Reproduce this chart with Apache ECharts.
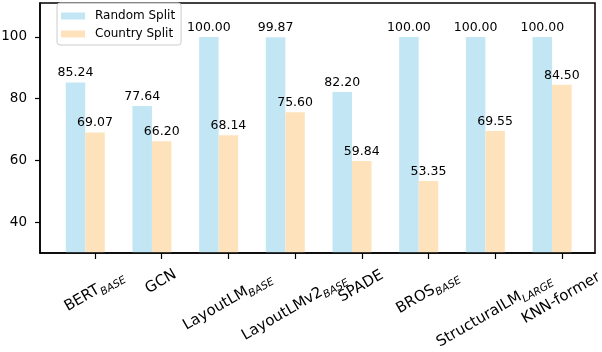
<!DOCTYPE html>
<html>
<head>
<meta charset="utf-8">
<script src="https://cdn.jsdelivr.net/npm/echarts@6/dist/echarts.min.js"></script>
<style>
html, body { margin: 0; padding: 0; background: #fff; }
#chart { width: 602px; height: 352px; }
</style>
</head>
<body>
<div id="chart"></div>
<script>
const modelNames = ['BERT', 'GCN', 'LayoutLM', 'LayoutLMv2', 'SPADE', 'BROS', 'StructuralLM', 'KNN-former']
const modelSubs = ['BASE', '', 'BASE', 'BASE', '', 'BASE', 'LARGE', '']
const randomSplit = [85.24, 77.64, 100.00, 99.87, 82.20, 100.00, 100.00, 100.00]
const countrySplit = [69.07, 66.20, 68.14, 75.60, 59.84, 53.35, 69.55, 84.50]
const yTicks = [40, 60, 80, 100]

const FONT = 'DejaVu Sans'
const BAR = 0.2925 // bar width in x units, country bar sits one bar to the right
const X_MIN = -0.5325
const X_MAX = 7.79
const BLUE = '#c3e6f5'
const ORANGE = '#fee2bb'

// blank entries at both ends soak up echarts' min/max label hiding
const xTicks = [X_MIN, ...modelNames.map((_, i) => i + BAR), X_MAX]

// measure label so rotated text can be centred under its tick (like ha='center')
const ctx = document.createElement('canvas').getContext('2d')
function labelWidth(i) {
  ctx.font = '15px "' + FONT + '"'
  let w = ctx.measureText(modelNames[i]).width
  if (modelSubs[i]) {
    ctx.font = 'italic 10.5px "' + FONT + '"'
    w += ctx.measureText(modelSubs[i]).width
  }
  return w
}

const rich = {
  m: { fontFamily: FONT, fontSize: 15, color: '#000', verticalAlign: 'bottom', padding: [0, 0, 3, 0] },
  s: { fontFamily: FONT, fontSize: 10.5, fontStyle: 'italic', color: '#000', verticalAlign: 'bottom' },
}
modelNames.forEach((_, i) => {
  const e = 0.3 * labelWidth(i)
  rich['p' + i] = { width: e, lineHeight: 18 + 1.732 * e, fontSize: 1 }
})

const valueLabel = {
  show: true,
  position: 'top',
  distance: 3,
  fontFamily: FONT,
  fontSize: 12.5,
  color: '#000',
  formatter: (p) => p.value[1].toFixed(2),
}

const chart = echarts.init(document.getElementById('chart'))
chart.setOption({
  animation: false,
  textStyle: { fontFamily: FONT },
  grid: {
    left: 40, right: 7, top: 3, bottom: 99,
    show: true, borderColor: '#000', borderWidth: 1.5,
    containLabel: false, outerBoundsMode: 'none',
  },
  legend: {
    orient: 'vertical',
    left: 57, top: 3,
    itemWidth: 24, itemHeight: 7, itemGap: 6,
    padding: [7, 6, 5, 4],
    borderColor: '#ccc', borderWidth: 1, borderRadius: 3,
    backgroundColor: 'rgba(255,255,255,0.8)',
    icon: 'rect',
    textStyle: { fontFamily: FONT, fontSize: 12, color: '#000', padding: [0, 0, 0, 5] },
    data: ['Random Split', 'Country Split'],
  },
  xAxis: [
    {
      type: 'value', min: X_MIN, max: X_MAX, z: 5,
      axisLine: { show: true, onZero: false, lineStyle: { color: '#000', width: 1.5 } },
      axisTick: { show: true, length: 6, customValues: xTicks, lineStyle: { color: '#000', width: 1.2 } },
      axisLabel: {
        customValues: xTicks,
        showMinLabel: false, showMaxLabel: false, hideOverlap: false,
        rotate: 30, align: 'center', verticalAlign: 'middle', margin: 20,
        formatter: (v) => {
          const i = Math.round(v - BAR)
          if (i < 0 || i >= modelNames.length || Math.abs(v - BAR - i) > 0.01) return ''
          return '{m|' + modelNames[i] + '}' + (modelSubs[i] ? '{s|' + modelSubs[i] + '}' : '') + '{p' + i + '|\u00a0}'
        },
        rich,
      },
      splitLine: { show: false },
    },
    { type: 'value', min: X_MIN, max: X_MAX, show: false },
  ],
  yAxis: {
    type: 'value', min: 30, max: 111, z: 5,
    axisLine: { show: true, onZero: false, lineStyle: { color: '#000', width: 1.5 } },
    axisTick: { show: true, length: 5, customValues: yTicks, lineStyle: { color: '#000', width: 1.2 } },
    axisLabel: { customValues: yTicks, fontFamily: FONT, fontSize: 13.5, color: '#000', margin: 13 },
    splitLine: { show: false },
  },
  series: [
    {
      name: 'Random Split', type: 'bar', xAxisIndex: 0, barWidth: 19.5,
      itemStyle: { color: BLUE },
      label: valueLabel,
      data: randomSplit.map((v, i) => [i, v]),
    },
    {
      name: 'Country Split', type: 'bar', xAxisIndex: 1, barWidth: 19.5,
      itemStyle: { color: ORANGE },
      label: valueLabel,
      data: countrySplit.map((v, i) => [i + BAR, v]),
    },
  ],
})
</script>
</body>
</html>
